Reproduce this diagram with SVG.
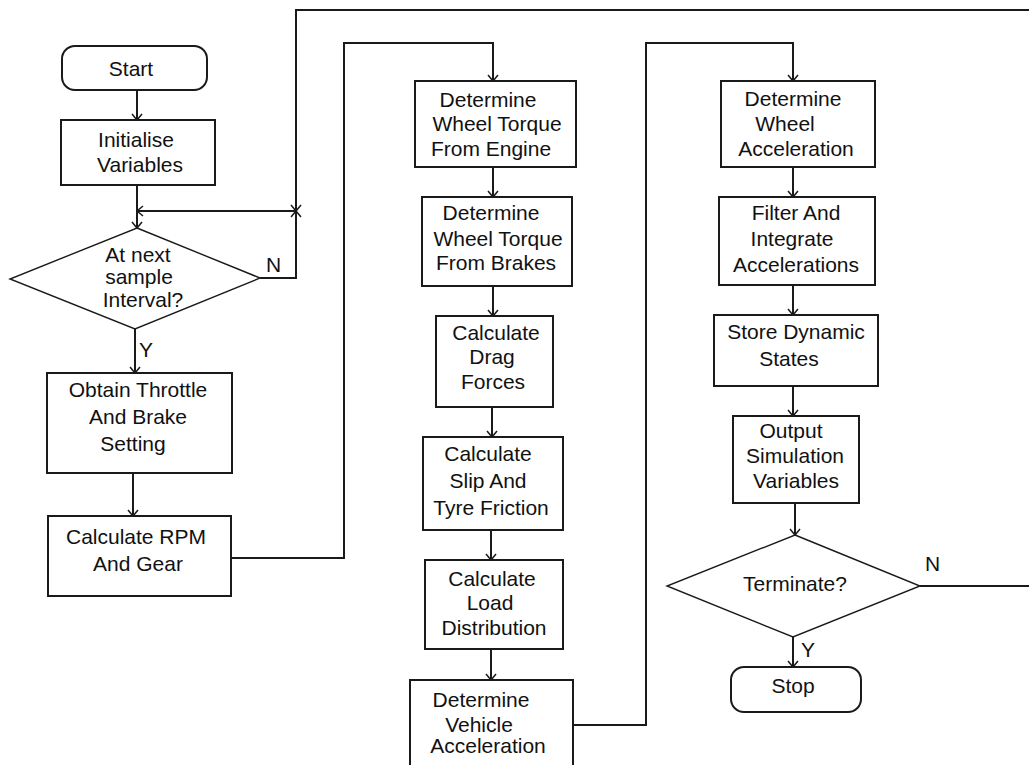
<svg xmlns="http://www.w3.org/2000/svg" width="1029" height="765" viewBox="0 0 1029 765">
<defs>
<style>
.box{fill:#fff;stroke:#1a1a1a;stroke-width:2}
.dia{fill:#fff;stroke:#1a1a1a;stroke-width:1.4}
.ln{fill:none;stroke:#1a1a1a;stroke-width:2}
.t{font-family:"Liberation Sans",Arial,sans-serif;font-size:21px;fill:#111;text-anchor:middle}
.lb{font-family:"Liberation Sans",Arial,sans-serif;font-size:21px;fill:#111}
</style>
<marker id="ah" markerUnits="userSpaceOnUse" markerWidth="14" markerHeight="14" viewBox="-8 -7 10 14" refX="0" refY="0" orient="auto">
<path d="M-6,-5 L0,0 L-6,5" fill="none" stroke="#1a1a1a" stroke-width="1.5"/>
</marker>
</defs>
<rect width="1029" height="765" fill="#fff"/>

<g id="connectors">
<line class="ln" x1="137" y1="90" x2="137" y2="120" marker-end="url(#ah)"/>
<line class="ln" x1="137" y1="185" x2="137" y2="211"/>
<line class="ln" x1="137" y1="211" x2="137" y2="228" marker-end="url(#ah)"/>
<line class="ln" x1="296" y1="211" x2="137" y2="211" marker-end="url(#ah)"/>
<polyline class="ln" points="1035,10 296,10 296,211" marker-end="url(#ah)"/>
<polyline class="ln" points="260,278 296,278 296,211" marker-end="url(#ah)"/>
<line class="ln" x1="135" y1="329" x2="135" y2="373" marker-end="url(#ah)"/>
<line class="ln" x1="133" y1="473" x2="133" y2="516" marker-end="url(#ah)"/>
<polyline class="ln" points="231,558 344,558 344,43 493,43 493,81" marker-end="url(#ah)"/>
<line class="ln" x1="493" y1="167" x2="493" y2="197" marker-end="url(#ah)"/>
<line class="ln" x1="493" y1="286" x2="493" y2="316" marker-end="url(#ah)"/>
<line class="ln" x1="492" y1="407" x2="492" y2="437" marker-end="url(#ah)"/>
<line class="ln" x1="491" y1="530" x2="491" y2="560" marker-end="url(#ah)"/>
<line class="ln" x1="491" y1="649" x2="491" y2="680" marker-end="url(#ah)"/>
<polyline class="ln" points="573,725 646,725 646,43 793,43 793,81" marker-end="url(#ah)"/>
<line class="ln" x1="793" y1="167" x2="793" y2="197" marker-end="url(#ah)"/>
<line class="ln" x1="793" y1="285" x2="793" y2="315" marker-end="url(#ah)"/>
<line class="ln" x1="793" y1="386" x2="793" y2="416" marker-end="url(#ah)"/>
<line class="ln" x1="795" y1="503" x2="795" y2="535" marker-end="url(#ah)"/>
<line class="ln" x1="793" y1="637" x2="793" y2="667" marker-end="url(#ah)"/>
<line class="ln" x1="920" y1="586" x2="1035" y2="586"/>
<text class="lb" x="266" y="272">N</text>
<text class="lb" x="139" y="357">Y</text>
<text class="lb" x="925" y="571">N</text>
<text class="lb" x="801" y="657">Y</text>
</g>

<g id="start">
<rect class="box" x="62" y="46" width="145" height="44" rx="13"/>
<text class="t" x="131" y="76">Start</text>
</g>

<g id="init">
<rect class="box" x="61" y="120" width="154" height="65"/>
<text class="t" x="136" y="147">Initialise</text>
<text class="t" x="140" y="172">Variables</text>
</g>

<g id="sample">
<polygon class="dia" points="137,228 260,278 135,329 10,279"/>
<text class="t" x="138" y="262">At next</text>
<text class="t" x="139" y="284">sample</text>
<text class="t" x="143" y="307">Interval?</text>
</g>

<g id="obtain">
<rect class="box" x="47" y="373" width="185" height="100"/>
<text class="t" x="138" y="397">Obtain Throttle</text>
<text class="t" x="138" y="424">And Brake</text>
<text class="t" x="133" y="451">Setting</text>
</g>

<g id="rpm">
<rect class="box" x="48" y="516" width="183" height="80"/>
<text class="t" x="136" y="544">Calculate RPM</text>
<text class="t" x="138" y="571">And Gear</text>
</g>

<g id="engine">
<rect class="box" x="415" y="81" width="161" height="86"/>
<text class="t" x="488" y="107">Determine</text>
<text class="t" x="497" y="131">Wheel Torque</text>
<text class="t" x="491" y="156">From Engine</text>
</g>

<g id="brakes">
<rect class="box" x="422" y="197" width="150" height="89"/>
<text class="t" x="491" y="220">Determine</text>
<text class="t" x="498" y="246">Wheel Torque</text>
<text class="t" x="496" y="270">From Brakes</text>
</g>

<g id="drag">
<rect class="box" x="436" y="316" width="117" height="91"/>
<text class="t" x="496" y="340">Calculate</text>
<text class="t" x="492" y="364">Drag</text>
<text class="t" x="493" y="389">Forces</text>
</g>

<g id="slip">
<rect class="box" x="423" y="437" width="140" height="93"/>
<text class="t" x="488" y="461">Calculate</text>
<text class="t" x="488" y="488">Slip And</text>
<text class="t" x="491" y="515">Tyre Friction</text>
</g>

<g id="load">
<rect class="box" x="425" y="560" width="138" height="89"/>
<text class="t" x="492" y="586">Calculate</text>
<text class="t" x="490" y="610">Load</text>
<text class="t" x="494" y="635">Distribution</text>
</g>

<g id="vehicle">
<rect class="box" x="410" y="680" width="163" height="100"/>
<text class="t" x="481" y="707">Determine</text>
<text class="t" x="479" y="732">Vehicle</text>
<text class="t" x="488" y="753">Acceleration</text>
</g>

<g id="wheelacc">
<rect class="box" x="721" y="81" width="154" height="86"/>
<text class="t" x="793" y="106">Determine</text>
<text class="t" x="785" y="131">Wheel</text>
<text class="t" x="796" y="156">Acceleration</text>
</g>

<g id="filter">
<rect class="box" x="719" y="197" width="156" height="88"/>
<text class="t" x="796" y="220">Filter And</text>
<text class="t" x="792" y="246">Integrate</text>
<text class="t" x="796" y="272">Accelerations</text>
</g>

<g id="store">
<rect class="box" x="714" y="315" width="164" height="71"/>
<text class="t" x="796" y="339">Store Dynamic</text>
<text class="t" x="789" y="366">States</text>
</g>

<g id="output">
<rect class="box" x="733" y="416" width="126" height="87"/>
<text class="t" x="791" y="438">Output</text>
<text class="t" x="795" y="463">Simulation</text>
<text class="t" x="796" y="488">Variables</text>
</g>

<g id="terminate">
<polygon class="dia" points="795,535 920,586 793,637 667,586"/>
<text class="t" x="795" y="591">Terminate?</text>
</g>

<g id="stop">
<rect class="box" x="731" y="667" width="130" height="45" rx="13"/>
<text class="t" x="793" y="693">Stop</text>
</g>
</svg>
